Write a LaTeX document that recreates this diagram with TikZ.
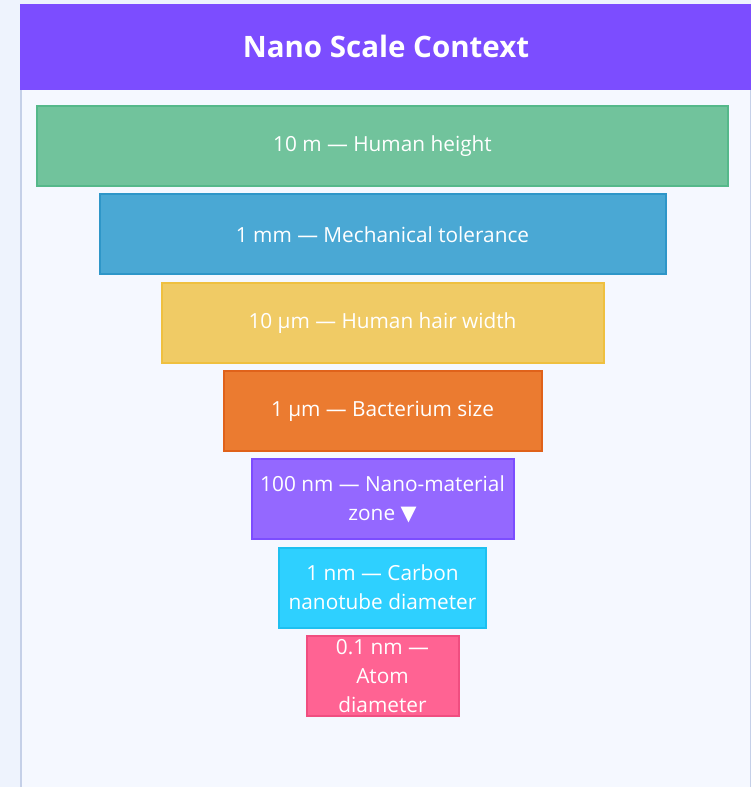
\documentclass[tikz,border=0pt]{standalone}
\usepackage{fontspec}
\setmainfont{Open Sans}
\newfontfamily\symfont{DejaVu Sans}
\usetikzlibrary{positioning}

\definecolor{pagebg}{HTML}{EEF3FD}
\definecolor{panelbg}{HTML}{F5F8FF}
\definecolor{panelline}{HTML}{C5D0E8}
\definecolor{headerbg}{HTML}{7C4DFF}
\definecolor{greenfill}{HTML}{71C39C}  \definecolor{greenline}{HTML}{55B88A}
\definecolor{bluefill}{HTML}{4AA8D4}   \definecolor{blueline}{HTML}{2E96C8}
\definecolor{yellowfill}{HTML}{F0CB65} \definecolor{yellowline}{HTML}{EFC040}
\definecolor{orangefill}{HTML}{EB7B30} \definecolor{orangeline}{HTML}{E0621A}
\definecolor{violetfill}{HTML}{9468FF} \definecolor{violetline}{HTML}{7C4DFF}
\definecolor{cyanfill}{HTML}{2ED0FF}   \definecolor{cyanline}{HTML}{1EC0F0}
\definecolor{pinkfill}{HTML}{FF6393}   \definecolor{pinkline}{HTML}{F04E80}

\tikzset{
    tier/.style={draw=#1line, fill=#1fill, line width=2pt, text=white,
        minimum height=80pt, inner sep=0pt, align=center,
        font=\fontsize{20.8}{29}\selectfont},
    title/.style={text=white, font=\bfseries\fontsize{29.5}{32}\selectfont},
}

\begin{document}
\begin{tikzpicture}[x=1pt, y=-1pt]

\fill[pagebg] (0,0) rectangle (751,787);
\useasboundingbox (0,0) rectangle (751,787);
\fill[panelbg] (21,4) rectangle (751,787);
\draw[panelline, line width=2pt] (21,90) -- (21,787);
\draw[panelline, line width=1pt] (750.5,90) -- (750.5,787);

% header
\fill[headerbg] (20,4) rectangle (751,90);
\node[title] (header) at (386,46) {Nano Scale Context};

% the scale tiers, widest on top
\foreach \tiername/\tierwidth/\tiercolor/\tiertext [count=\i] in {
    human/691/green/{10 m — Human height},
    tolerance/566/blue/{1 mm — Mechanical tolerance},
    hair/442/yellow/{10 μm — Human hair width},
    bacterium/318/orange/{1 μm — Bacterium size},
    nanomat/262/violet/{100 nm — Nano-material\\zone {\symfont ▼}},
    nanotube/207/cyan/{1 nm — Carbon\\nanotube diameter},
    atom/152/pink/{0.1 nm —\\Atom\\diameter}}{
    \node[tier=\tiercolor, minimum width=\tierwidth pt] (\tiername)
        at (382.5,{146+88.3*(\i-1)}) {\tiertext};
}

\end{tikzpicture}
\end{document}
